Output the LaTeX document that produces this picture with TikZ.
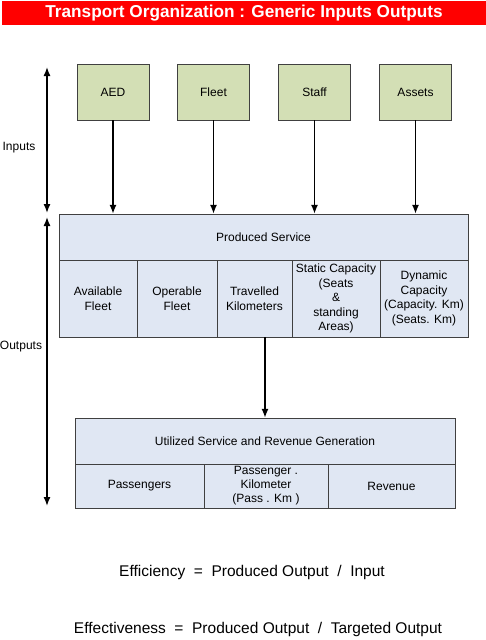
\documentclass[tikz,border=0pt]{standalone}
\usepackage{fontspec}
\setmainfont{Liberation Sans}
\usetikzlibrary{arrows.meta, positioning}
\definecolor{inGreen}{RGB}{211,223,181}
\definecolor{outBlue}{RGB}{224,231,243}
\definecolor{titleRed}{RGB}{255,0,0}

\begin{document}
\begin{tikzpicture}[x=1pt, y=-1pt, >={Latex[length=9pt, width=7pt]}, font=\fontsize{12}{14.5}\selectfont,
    inbox/.style={rectangle, draw=black!75, fill=inGreen, minimum width=72pt, minimum height=56pt, inner sep=0pt},
    cell/.style={rectangle, draw=black!75, fill=outBlue, inner sep=0pt, align=center},
    flow/.style={->, line width=1.4pt},
    formula/.style={font=\fontsize{15.5}{18}\selectfont}]

% \draw[help lines] (0,0) grid (486,640);
\useasboundingbox (0,0) rectangle (486,640);

% TITLE
\node[fill=titleRed, text=white, font=\bfseries\fontsize{17.2}{19}\selectfont, minimum width=484pt, minimum height=24pt, inner sep=0pt] (title) at (244,13) {Transport Organization : Generic Inputs Outputs};

% INPUTS
\node[inbox] (aed) at (113,92) {AED};
\node[inbox] (fleet) at (213.5,92) {Fleet};
\node[inbox] (staff) at (314.5,92) {Staff};
\node[inbox] (assets) at (415.5,92) {Assets};

% PRODUCED SERVICE
\node[cell, minimum width=409pt, minimum height=46pt] (prodHead) at (263.5,237) {Produced Service};
\node[cell, minimum width=78pt, minimum height=77pt] (availFleet) at (98,298.5) {Available\\Fleet};
\node[cell, minimum width=80pt, minimum height=77pt] (operFleet) at (177,298.5) {Operable\\Fleet};
\node[cell, minimum width=75pt, minimum height=77pt] (travKm) at (254.5,298.5) {Travelled\\Kilometers};
\node[cell, minimum width=88pt, minimum height=77pt] (staticCap) at (336,298.5) {Static Capacity\\(Seats\\\&\\standing\\Areas)};
\node[cell, minimum width=88pt, minimum height=77pt] (dynCap) at (424,298.5) {Dynamic\\Capacity\\(Capacity. Km)\\(Seats. Km)};

% UTILIZED SERVICE
\node[cell, minimum width=380pt, minimum height=46pt] (utilHead) at (265,441) {Utilized Service and Revenue Generation};
\node[cell, minimum width=129pt, minimum height=44pt] (passengers) at (139.5,486) {Passengers};
\node[cell, minimum width=124pt, minimum height=44pt, font=\fontsize{12}{14}\selectfont] (passKm) at (266,486) {Passenger .\\Kilometer\\(Pass . Km )};
\node[cell, minimum width=127pt, minimum height=44pt] (revenue) at (391.5,486) {Revenue};

% SIDE LABELS
\coordinate (inTop) at (47,67);
\coordinate (inBot) at (47,213);
\coordinate (outTop) at (47,217);
\coordinate (outBot) at (47,506);
\node (inputsLbl) at (19,148) {Inputs};
\node (outputsLbl) at (21,347) {Outputs};

% FORMULAS
\node[formula] (efficiency) at (252,572) {Efficiency\ \ =\ \ Produced Output\ \ /\ \ Input};
\node[formula] (effectiveness) at (258,629) {Effectiveness\ \ =\ \ Produced Output\ \ /\ \ Targeted Output};

% ARROWS
\draw[flow, <->] (inTop) -- (inBot);
\draw[flow, <->] (outTop) -- (outBot);
\path[flow] (aed) edge (aed |- prodHead.north);
\path[flow] (fleet) edge (fleet |- prodHead.north);
\path[flow] (staff) edge (staff |- prodHead.north);
\path[flow] (assets) edge (assets |- prodHead.north);
\path[flow] (utilHead.north |- travKm.south) edge (utilHead.north);

\end{tikzpicture}
\end{document}
